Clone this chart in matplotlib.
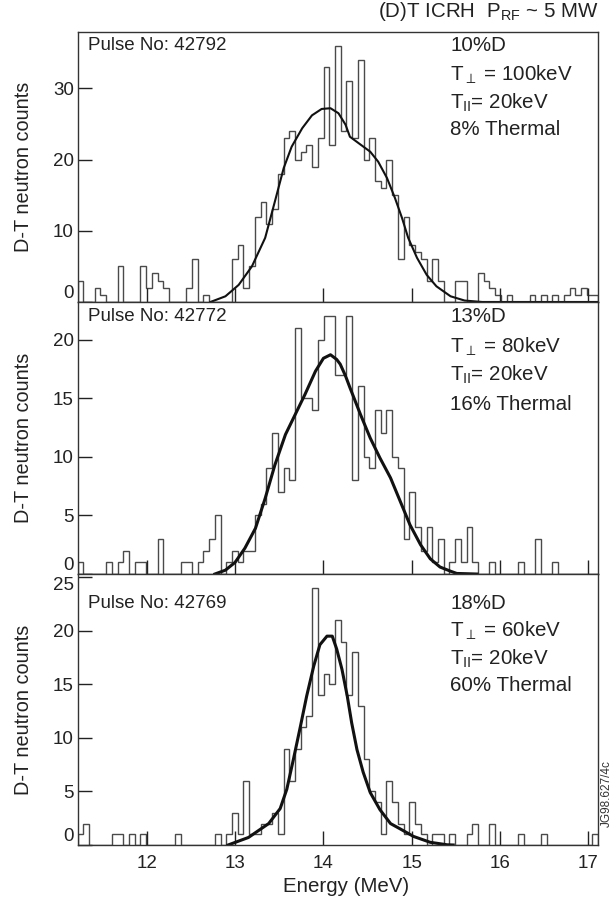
import matplotlib
matplotlib.use('Agg')
import matplotlib.pyplot as plt
import numpy as np

plt.rcParams['font.family'] = ['Liberation Sans', 'DejaVu Sans']
plt.rcParams['mathtext.fontset'] = 'custom'
plt.rcParams['mathtext.rm'] = 'Liberation Sans'
plt.rcParams['mathtext.it'] = 'Liberation Sans:italic'
plt.rcParams['mathtext.sf'] = 'Liberation Sans'

# histogram binning (MeV)
e_first = 11.215
e_width = 0.0648
n_bins = 91

counts_42792 = [3, 0, 0, 2, 1, 0, 0, 5, 0, 0, 0,
                5, 2, 4, 3, 2, 0, 0, 0, 2, 6,
                0, 1, 0, 0, 0, 0, 6, 8, 2, 5,
                12, 14, 11, 13, 18, 23, 24, 20, 21, 22,
                19, 23, 33, 22, 36, 24, 31, 23, 34, 20,
                23, 17, 16, 20, 15, 6, 12, 8, 7, 6,
                3, 6, 3, 0, 0, 3, 3, 0, 0, 4,
                3, 2, 1, 0, 1, 0, 0, 0, 1, 0,
                1, 0, 1, 0, 1, 2, 1, 2, 1, 1]

counts_42772 = [1, 0, 0, 0, 0, 1, 0, 1, 2, 0, 1,
                1, 0, 0, 3, 0, 0, 0, 1, 1, 0,
                1, 2, 3, 5, 0, 1, 2, 1, 2, 2,
                5, 6, 9, 12, 7, 9, 8, 21, 15, 15,
                14, 20, 22, 22, 17, 17, 22, 8, 16, 10,
                9, 14, 12, 14, 10, 9, 3, 7, 4, 2,
                4, 1, 3, 0, 1, 3, 1, 4, 1, 0,
                0, 1, 0, 0, 0, 0, 1, 0, 0, 3,
                0, 0, 1, 0, 0, 0, 0, 0, 0, 0]

counts_42769 = [1, 2, 0, 0, 0, 0, 1, 1, 0, 1, 0,
                1, 0, 0, 0, 0, 0, 1, 0, 0, 0,
                0, 0, 0, 1, 0, 1, 3, 1, 6, 1,
                1, 2, 2, 3, 1, 9, 6, 9, 11, 12,
                24, 14, 16, 15, 21, 19, 14, 18, 13, 8,
                5, 4, 1, 6, 4, 2, 1, 4, 2, 1,
                0, 1, 1, 0, 1, 0, 0, 1, 2, 0,
                0, 2, 0, 0, 0, 0, 1, 0, 0, 0,
                1, 0, 0, 0, 0, 0, 0, 0, 0, 1]

# fitted spectra
fit_e_42792 = [12.72, 12.89, 13.04, 13.19, 13.34, 13.45, 13.55, 13.64, 13.76, 13.87,
               13.98, 14.08, 14.17, 14.25, 14.30, 14.42, 14.53, 14.62, 14.72, 14.81,
               14.89, 14.96, 15.06, 15.17, 15.28, 15.44, 15.60, 15.80, 17.11]
fit_v_42792 = [0, 0.8, 2.4, 5.0, 9.0, 14.1, 18.8, 21.8, 24.4, 26.2,
               27.1, 27.2, 26.5, 24.9, 23.2, 22.1, 21.1, 19.7, 17.4, 14.6,
               11.8, 9.0, 6.2, 3.8, 2.2, 0.8, 0.2, 0, 0]

fit_e_42772 = [12.77, 12.89, 13.00, 13.11, 13.23, 13.34, 13.45, 13.57, 13.68, 13.79,
               13.91, 14.00, 14.08, 14.15, 14.19, 14.25, 14.30, 14.42, 14.53, 14.64,
               14.76, 14.87, 14.98, 15.10, 15.21, 15.32, 15.44, 15.51, 15.74]
fit_v_42772 = [0, 0.33, 1.0, 2.2, 3.9, 6.45, 9.3, 11.9, 13.6, 15.3,
               17.3, 18.4, 18.7, 18.3, 17.9, 16.9, 15.9, 13.6, 11.6, 9.9,
               8.2, 6.2, 4.2, 2.5, 1.3, 0.6, 0.24, 0.05, 0]

fit_e_42769 = [12.92, 13.15, 13.38, 13.51, 13.585, 13.66, 13.74, 13.81, 13.89, 13.96,
               14.04, 14.10, 14.15, 14.21, 14.27, 14.32, 14.38, 14.45, 14.53, 14.64,
               14.76, 14.87, 15.02, 15.21, 15.40, 15.47]
fit_v_42769 = [0, 0.7, 2.0, 3.4, 5.2, 8.0, 11.1, 13.9, 16.7, 18.7,
               19.5, 19.5, 18.3, 16.4, 13.9, 11.4, 8.9, 6.8, 4.9, 3.3,
               2.0, 1.5, 0.8, 0.25, 0.02, 0]

pulses = ['42792', '42772', '42769']
d_frac = ['10%D', '13%D', '18%D']
t_perp = ['100keV', '80keV', '60keV']
t_par = ['20keV', '20keV', '20keV']
thermal = ['8% Thermal', '16% Thermal', '60% Thermal']
y_max = [37.9, 23.2, 25.3]
y_ticks = [[0, 10, 20, 30], [0, 5, 10, 15, 20], [0, 5, 10, 15, 20, 25]]
x_ticks = [12, 13, 14, 15, 16, 17]

all_counts = [counts_42792, counts_42772, counts_42769]
all_fit_e = [fit_e_42792, fit_e_42772, fit_e_42769]
all_fit_v = [fit_v_42792, fit_v_42772, fit_v_42769]
fit_lw = [1.5, 2.2, 2.2]

edges = e_first + e_width * np.arange(n_bins + 1)

fig = plt.figure(figsize=(6.16, 9.02), dpi=100)
# panel boxes in figure fraction (left, bottom, width, height)
boxes = [(0.1266, 0.6652, 0.8442, 0.2993),
         (0.1266, 0.3636, 0.8442, 0.3016),
         (0.1266, 0.0632, 0.8442, 0.3004)]
# y of the annotation rows (axes fraction) per panel
rows = [[0.950, 0.843, 0.738, 0.640],
        [0.945, 0.835, 0.732, 0.625],
        [0.893, 0.790, 0.686, 0.587]]

fs = 13.5
fs_big = 14.8
ink = '#222222'
for i in range(3):
    ax = fig.add_axes(boxes[i])
    ax.stairs(all_counts[i], edges, baseline=0, color='#4a4a4a', lw=1.0)
    ax.plot(all_fit_e[i], all_fit_v[i], color='#111111', lw=fit_lw[i],
            solid_joinstyle='round')
    ax.set_xlim(11.22, 17.11)
    ax.set_ylim(0, y_max[i])
    ax.set_yticks(y_ticks[i])
    ax.set_xticks(x_ticks)
    ax.tick_params(direction='in', length=10, width=1.0, labelsize=fs,
                   colors=ink)
    ax.tick_params(axis='y', pad=3)
    ax.tick_params(axis='x', pad=7)
    for sp in ax.spines.values():
        sp.set_color('#333333')
        sp.set_linewidth(1.0)
    if i < 2:
        ax.tick_params(axis='x', labelbottom=False)
    else:
        ax.set_xlabel('Energy (MeV)', fontsize=fs_big, color=ink)
        ax.xaxis.set_label_coords(0.515, -0.118)
    ax.set_ylabel('D-T neutron counts', fontsize=14.3, color=ink)
    ax.yaxis.set_label_coords(-0.087, 0.5)

    labels = ax.get_yticklabels()
    labels[0].set_verticalalignment('bottom')
    if i == 2:
        labels[-1].set_verticalalignment('top')

    ax.text(0.019, rows[i][0], 'Pulse No: ' + pulses[i], transform=ax.transAxes,
            fontsize=fs, va='center', ha='left', color=ink)
    tx = 0.716
    ax.text(tx, rows[i][0], d_frac[i], transform=ax.transAxes,
            fontsize=fs_big, va='center', color=ink)
    ax.text(tx, rows[i][1], r'T$_{\perp}$ = ' + t_perp[i], transform=ax.transAxes,
            fontsize=fs_big, va='center', color=ink)
    ax.text(tx, rows[i][2], r'T$_{\mathrm{II}}$= ' + t_par[i], transform=ax.transAxes,
            fontsize=fs_big, va='center', color=ink)
    ax.text(tx, rows[i][3], thermal[i], transform=ax.transAxes,
            fontsize=fs_big, va='center', color=ink)

fig.text(0.971, 0.9867, r'(D)T ICRH  P$_{\mathrm{RF}}$ ~ 5 MW', ha='right',
         va='center', fontsize=fs_big, color=ink)
fig.text(0.985, 0.12, 'JG98.627/4c', rotation=90, ha='center', va='center',
         fontsize=8.5, color='#333333')

fig.savefig('out.png', dpi=100)
